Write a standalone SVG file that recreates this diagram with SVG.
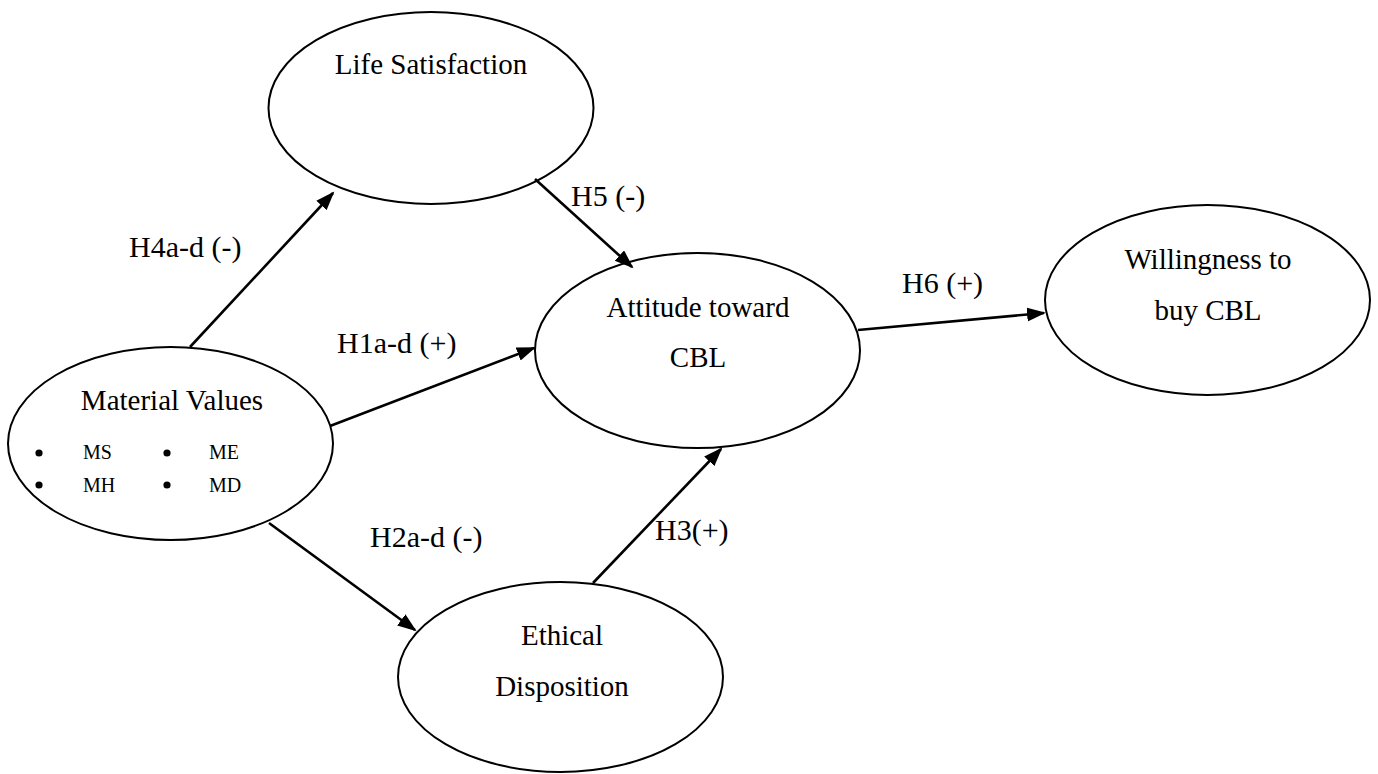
<svg xmlns="http://www.w3.org/2000/svg" width="1378" height="774" viewBox="0 0 1378 774">
<style>
.node ellipse{fill:#fff;stroke:#000;stroke-width:2}
text{font-family:"Liberation Serif","Times New Roman",serif;fill:#000}
.nt{font-size:29px;text-anchor:middle}
.lb{font-size:30px}
.sm{font-size:20px}
.conn line{stroke:#000;stroke-width:2.6;fill:none;marker-end:url(#ah)}
</style>
<defs>
<marker id="ah" markerUnits="userSpaceOnUse" markerWidth="20" markerHeight="16" refX="17" refY="7" orient="auto">
<path d="M0,0 L19,7 L0,14 z" fill="#000"/>
</marker>
</defs>
<rect width="1378" height="774" fill="#fff"/>
<g id="life-satisfaction" class="node">
<ellipse cx="431" cy="108" rx="162.5" ry="96"/>
<text class="nt" x="431" y="74">Life Satisfaction</text>
</g>
<g id="attitude" class="node">
<ellipse cx="697.5" cy="350.5" rx="162.5" ry="97.5"/>
<text class="nt" x="698" y="317">Attitude toward</text>
<text class="nt" x="698" y="367">CBL</text>
</g>
<g id="willingness" class="node">
<ellipse cx="1207.5" cy="300" rx="162.5" ry="95"/>
<text class="nt" x="1208" y="269">Willingness to</text>
<text class="nt" x="1208" y="320">buy CBL</text>
</g>
<g id="material-values" class="node">
<ellipse cx="170.5" cy="443.5" rx="162.5" ry="96.5"/>
<text class="nt" x="172" y="410">Material Values</text>
<circle cx="39" cy="453" r="3.6"/>
<circle cx="39" cy="485" r="3.6"/>
<circle cx="167" cy="453" r="3.6"/>
<circle cx="167" cy="485" r="3.6"/>
<text class="sm" x="83" y="459">MS</text>
<text class="sm" x="83" y="492">MH</text>
<text class="sm" x="209" y="459">ME</text>
<text class="sm" x="209" y="492">MD</text>
</g>
<g id="ethical-disposition" class="node">
<ellipse cx="560.5" cy="677" rx="162.5" ry="95"/>
<text class="nt" x="562" y="645">Ethical</text>
<text class="nt" x="562" y="696">Disposition</text>
</g>
<g id="connectors" class="conn">
<line x1="190" y1="347" x2="333" y2="193"/>
<line x1="535" y1="179" x2="632" y2="267"/>
<line x1="330" y1="426" x2="534" y2="348"/>
<line x1="858" y1="330" x2="1044" y2="313"/>
<line x1="269" y1="523" x2="415" y2="630"/>
<line x1="593" y1="583" x2="721" y2="449"/>
</g>
<g id="labels">
<text class="lb" x="129" y="257">H4a-d (-)</text>
<text class="lb" x="571" y="206">H5 (-)</text>
<text class="lb" x="337" y="353">H1a-d (+)</text>
<text class="lb" x="902" y="293">H6 (+)</text>
<text class="lb" x="370" y="547">H2a-d (-)</text>
<text class="lb" x="655" y="540">H3(+)</text>
</g>
</svg>
